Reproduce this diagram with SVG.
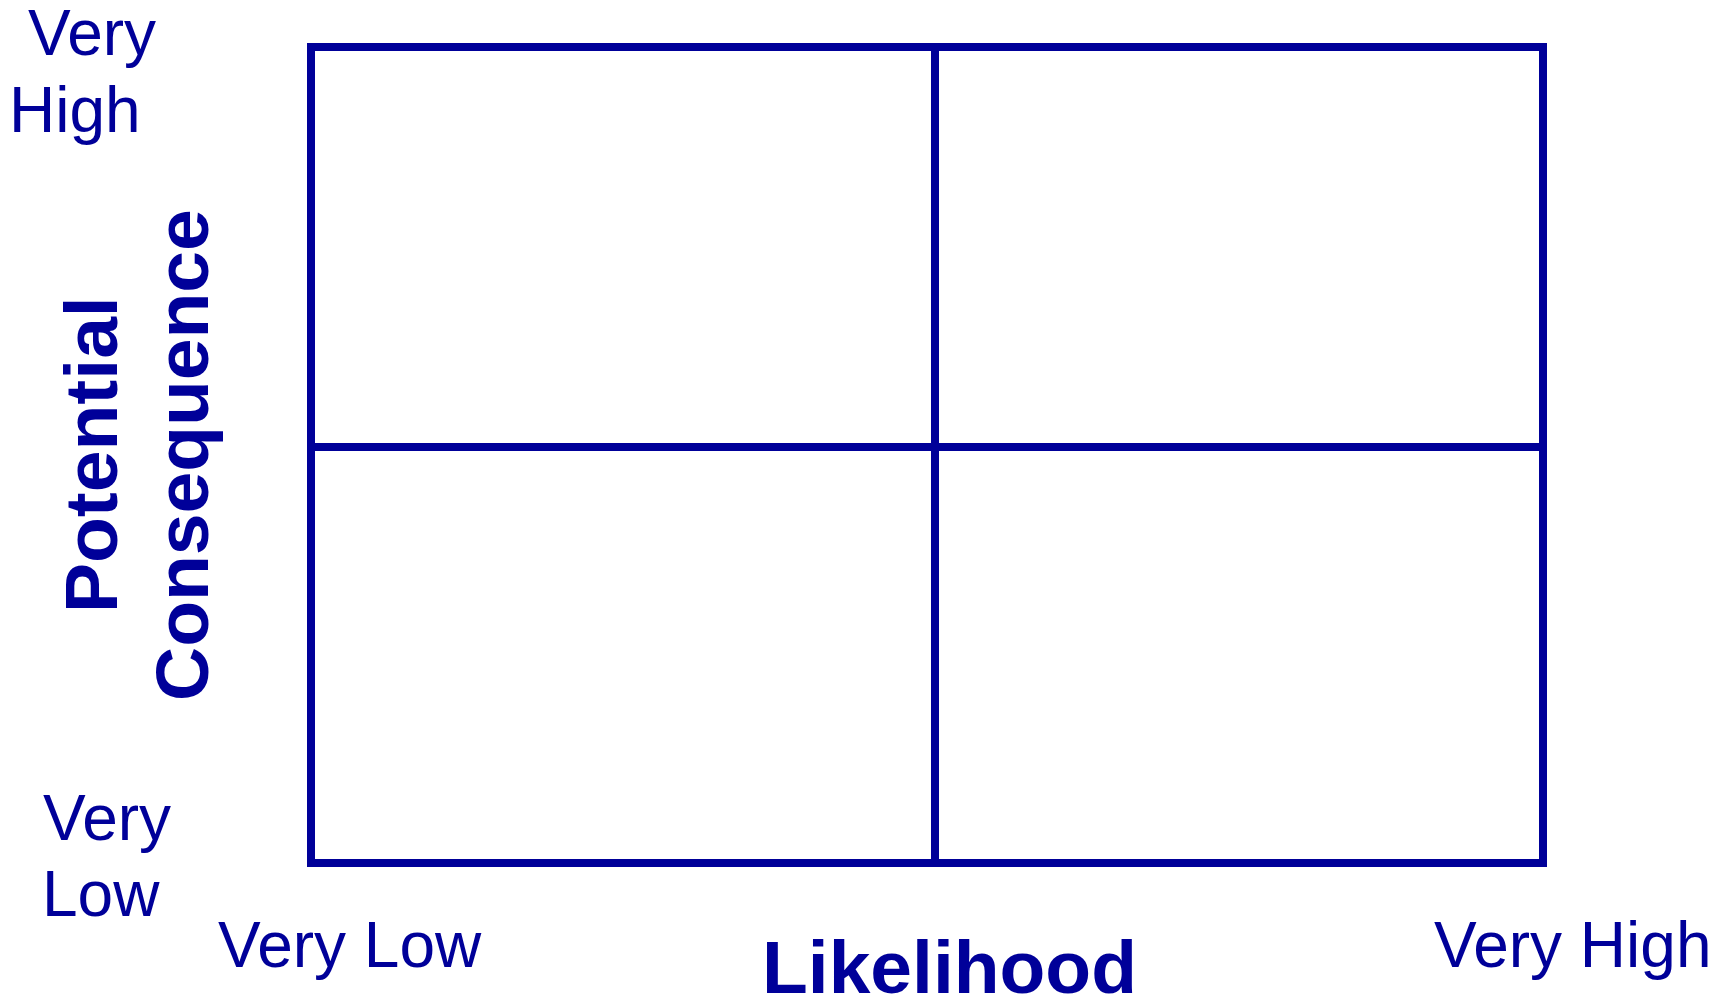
<svg xmlns="http://www.w3.org/2000/svg" width="1727" height="998" viewBox="0 0 1727 998">
<style>
.lbl{font-family:"Liberation Sans",Arial,sans-serif;font-size:64px;fill:#000099}
.ax{font-family:"Liberation Sans",Arial,sans-serif;font-size:75px;font-weight:bold;fill:#000099}
.ln{stroke:#000099;stroke-width:8;fill:none}
</style>
<rect width="1727" height="998" fill="#ffffff"/>
<g id="grid">
<rect class="ln" x="311" y="47" width="1232" height="816"/>
</g>
<g id="connectors">
<line class="ln" x1="935" y1="47" x2="935" y2="863"/>
<line class="ln" x1="311" y1="447" x2="1543" y2="447"/>
</g>
<g id="y-high"><text class="lbl" x="28" y="55">Very</text><text class="lbl" x="9" y="132">High</text></g>
<g id="y-low"><text class="lbl" x="43" y="840">Very</text><text class="lbl" x="42" y="916">Low</text></g>
<g id="x-low"><text class="lbl" x="218" y="967">Very Low</text></g>
<g id="x-high"><text class="lbl" x="1434" y="967">Very High</text></g>
<g id="x-title"><text class="ax" x="762" y="993">Likelihood</text></g>
<g id="y-title">
<text class="ax" transform="translate(117,613) rotate(-90)">Potential</text>
<text class="ax" transform="translate(208,701) rotate(-90)">Consequence</text>
</g>
</svg>
